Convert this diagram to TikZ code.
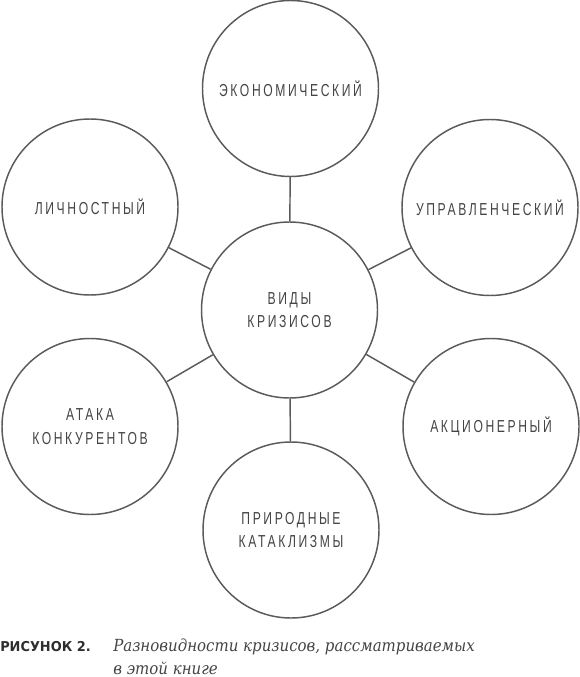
\documentclass[tikz,border=0pt]{standalone}
\usepackage{fontspec}
\usepackage{xcolor}
\setmainfont{DejaVu Serif}
\newfontfamily\labelfont{Liberation Sans}[FakeStretch=0.7, LetterSpace=15]
\newfontfamily\figfont{DejaVu Sans}[FakeStretch=0.95]
\newfontfamily\capfont{DejaVu Serif}[FakeStretch=0.9]
\definecolor{linegray}{HTML}{5A5A5A}
\definecolor{textgray}{HTML}{444444}
\definecolor{capgray}{HTML}{2E2E2E}

\begin{document}
\begin{tikzpicture}[x=0.75pt, y=-0.75pt,
    crisis/.style={circle, draw=linegray, line width=1.1pt, minimum size=132pt,
        inner sep=0pt, align=center, text=textgray,
        font=\labelfont\fontsize{13}{17.5}\selectfont},
    link/.style={draw=linegray, line width=1.1pt}]
    \useasboundingbox (0,0) rectangle (580,677);

                % Nodes
                \node[crisis] (kinds) at (289.5,310) {ВИДЫ\\КРИЗИСОВ};
                \node[crisis] (econ) at (290.5,88.5) {ЭКОНОМИЧЕСКИЙ};
                \node[crisis] (pers) at (90,207) {ЛИЧНОСТНЫЙ};
                \node[crisis] (mgmt) at (490,207.5) {УПРАВЛЕНЧЕСКИЙ};
                \node[crisis] (rival) at (90,426.5) {АТАКА\\КОНКУРЕНТОВ};
                \node[crisis] (share) at (491,426.5) {АКЦИОНЕРНЫЙ};
                \node[crisis] (nature) at (291,530) {ПРИРОДНЫЕ\\КАТАКЛИЗМЫ};

                % Links
                \foreach \n in {econ, pers, mgmt, rival, share, nature}
                    \draw[link] (kinds) -- (\n);

                % Caption
                \node[anchor=base west, inner sep=0pt, text=capgray,
                    font=\figfont\bfseries\fontsize{10.2}{12}\selectfont] (fig) at (0,651) {РИСУНОК 2.};
                \node[anchor=base west, inner sep=0pt, text=textgray,
                    font=\capfont\itshape\fontsize{12.5}{17}\selectfont] (cap1) at (113,651) {Разновидности кризисов, рассматриваемых};
                \node[anchor=base west, inner sep=0pt, text=textgray,
                    font=\capfont\itshape\fontsize{12.5}{17}\selectfont] (cap2) at (113,674) {в этой книге};

\end{tikzpicture}
\end{document}
